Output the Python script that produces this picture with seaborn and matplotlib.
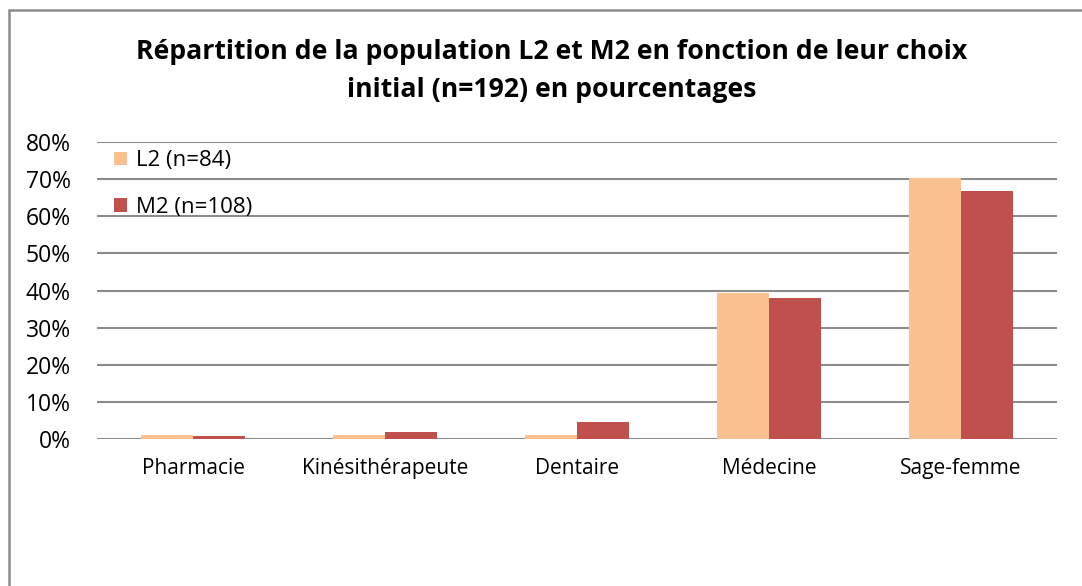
import matplotlib
matplotlib.use("Agg")
import matplotlib.pyplot as plt
from matplotlib.lines import Line2D
from matplotlib.patches import Patch
from matplotlib.ticker import PercentFormatter
import seaborn as sns
import pandas as pd

categories = ['Pharmacie', 'Kinésithérapeute', 'Dentaire', 'Médecine', 'Sage-femme']
l2_values = [1.19, 1.19, 1.19, 39.29, 70.24]
m2_values = [0.93, 1.85, 4.63, 37.96, 66.67]
series_names = ['L2 (n=84)', 'M2 (n=108)']
colors = ['#FAC090', '#C0504D']

df = pd.DataFrame({
    'Choix': categories * 2,
    'Groupe': [series_names[0]] * len(categories) + [series_names[1]] * len(categories),
    'Pourcentage': l2_values + m2_values,
})

sns.set_style('white')
plt.rcParams['font.family'] = ['Open Sans', 'DejaVu Sans']
plt.rcParams['text.color'] = 'black'

fig = plt.figure(figsize=(10.82, 5.86), dpi=100)
ax = fig.add_axes([97 / 1082, 1 - 439 / 586, 960 / 1082, 297 / 586])

sns.barplot(data=df, x='Choix', y='Pourcentage', hue='Groupe', palette=colors,
            width=0.54, saturation=1, linewidth=0, ax=ax, legend=False)

ax.set_ylim(0, 80)
ax.set_yticks(range(0, 81, 10))
ax.yaxis.set_major_formatter(PercentFormatter(decimals=0))
ax.set_xlim(-0.5, 4.5)
ax.grid(axis='y', color='#8c8c8c', linewidth=1.5)
ax.set_axisbelow(True)
for s in ax.spines.values():
    s.set_visible(False)
ax.set_xlabel('')
ax.set_ylabel('')
ax.tick_params(axis='y', length=0, pad=19, labelsize=16.5, colors='black')
ax.tick_params(axis='x', length=0, pad=14, labelsize=15, colors='black')

handles = [Patch(facecolor=c, edgecolor='none') for c in colors]
ax.legend(handles, series_names, loc='upper left', bbox_to_anchor=(0.002, 1.024),
          frameon=False, fontsize=16, handlelength=0.55, handleheight=0.55,
          handletextpad=0.4, labelspacing=1.15, borderaxespad=0.3)

fig.text(0.51, 0.878, 'Répartition de la population L2 et M2 en fonction de leur choix\n'
         'initial (n=192) en pourcentages', ha='center', va='center',
         fontsize=19.2, fontweight='bold', linespacing=1.6)

# cadre du graphique (bords haut et gauche)
fig.add_artist(Line2D([8.5 / 1082, 8.5 / 1082], [0, 1 - 10 / 586], color='#8c8c8c', lw=1.8))
fig.add_artist(Line2D([8.5 / 1082, 1], [1 - 10 / 586, 1 - 10 / 586], color='#8c8c8c', lw=1.8))

fig.savefig('out.png', dpi=100)
